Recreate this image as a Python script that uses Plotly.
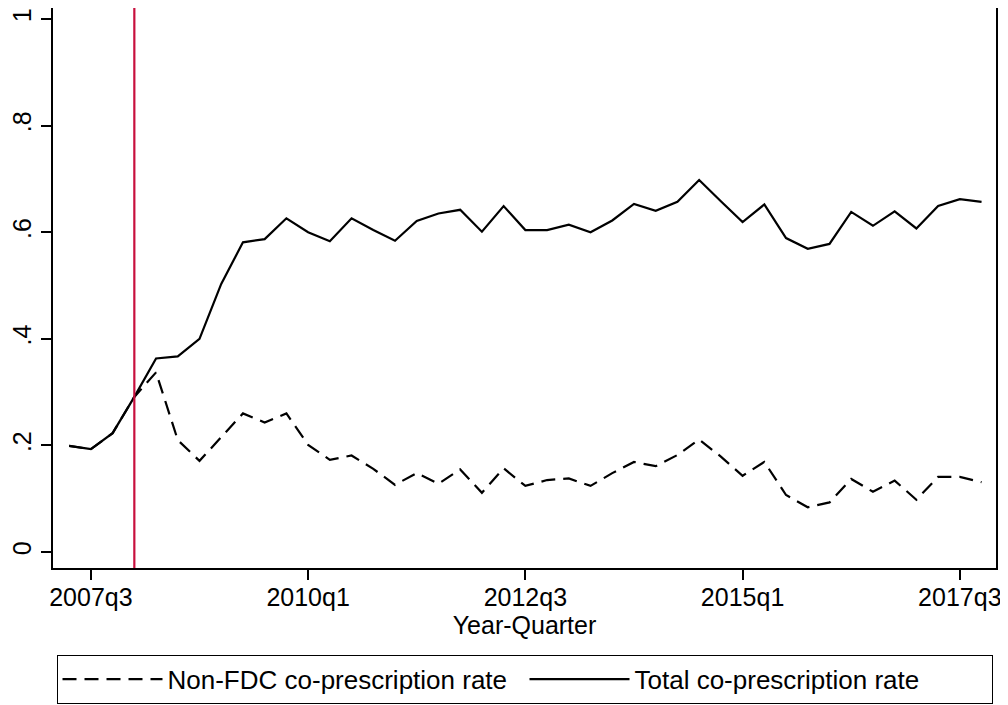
import plotly.graph_objects as go

quarters = ["2007q2", "2007q3", "2007q4", "2008q1", "2008q2", "2008q3", "2008q4",
            "2009q1", "2009q2", "2009q3", "2009q4", "2010q1", "2010q2", "2010q3",
            "2010q4", "2011q1", "2011q2", "2011q3", "2011q4", "2012q1", "2012q2",
            "2012q3", "2012q4", "2013q1", "2013q2", "2013q3", "2013q4", "2014q1",
            "2014q2", "2014q3", "2014q4", "2015q1", "2015q2", "2015q3", "2015q4",
            "2016q1", "2016q2", "2016q3", "2016q4", "2017q1", "2017q2", "2017q3",
            "2017q4"]

total_rate = [0.199, 0.193, 0.223, 0.291, 0.363, 0.367, 0.400, 0.503, 0.581, 0.587,
              0.626, 0.600, 0.583, 0.626, 0.604, 0.584, 0.621, 0.635, 0.642, 0.601,
              0.649, 0.604, 0.604, 0.614, 0.600, 0.622, 0.653, 0.640, 0.657, 0.698,
              0.658, 0.619, 0.652, 0.589, 0.569, 0.578, 0.638, 0.612, 0.639, 0.607,
              0.649, 0.662, 0.657]

nonfdc_rate = [0.199, 0.193, 0.223, 0.291, 0.337, 0.210, 0.171, 0.216, 0.260, 0.243,
               0.260, 0.201, 0.173, 0.181, 0.156, 0.126, 0.148, 0.128, 0.155, 0.111,
               0.157, 0.124, 0.135, 0.138, 0.124, 0.148, 0.169, 0.161, 0.182, 0.211,
               0.179, 0.143, 0.169, 0.107, 0.084, 0.093, 0.137, 0.113, 0.134, 0.098,
               0.141, 0.141, 0.131]

tick_labels = ["2007q3", "2010q1", "2012q3", "2015q1", "2017q3"]
y_ticks = [0, 0.2, 0.4, 0.6, 0.8, 1.0]
y_tick_labels = ["0", ".2", ".4", ".6", ".8", "1"]
event_quarter = "2008q1"

# quarter index relative to 2007q3
base = quarters.index("2007q3")
xs = [i - base for i in range(len(quarters))]
tick_pos = [quarters.index(t) - base for t in tick_labels]
event_x = quarters.index(event_quarter) - base

FONT = "Liberation Sans, Arial, Helvetica, sans-serif"

fig = go.Figure()
fig.add_trace(go.Scatter(
    x=xs, y=nonfdc_rate, mode="lines", name="Non-FDC co-prescription rate",
    line=dict(color="black", width=2.2, dash="14px,8px"),
    text=quarters, hovertemplate="%{text}: %{y:.3f}<extra></extra>"))
fig.add_trace(go.Scatter(
    x=xs, y=total_rate, mode="lines", name="Total co-prescription rate",
    line=dict(color="black", width=2.2),
    text=quarters, hovertemplate="%{text}: %{y:.3f}<extra></extra>"))

fig.add_vline(x=event_x, line=dict(color="#C8103E", width=2.2), layer="above")

# the page adds an 8px body margin, so the figure is 1000x697
fig.update_layout(
    width=1000, height=697,
    margin=dict(l=45, r=12, t=0, b=137, autoexpand=False),
    paper_bgcolor="white", plot_bgcolor="white",
    font=dict(family=FONT, size=25, color="black"),
    showlegend=True,
    legend=dict(
        orientation="h", x=0.5, xanchor="center", y=-0.155, yanchor="top",
        bordercolor="black", borderwidth=1, bgcolor="white",
        font=dict(family=FONT, size=26, color="black"),
        itemwidth=100, entrywidth=352, traceorder="normal"),
    xaxis=dict(
        range=[-1.744, 41.665], tickmode="array", tickvals=tick_pos, ticktext=tick_labels,
        ticks="outside", ticklen=10, tickwidth=1.5, tickcolor="black",
        showgrid=False, zeroline=False, showline=True, linecolor="black",
        linewidth=2, mirror=True, automargin=False, ticklabelstandoff=-4,
        title=dict(text="Year-Quarter", standoff=0, font=dict(size=25)),
        tickfont=dict(size=25)),
    yaxis=dict(
        range=[-0.030, 1.0206], tickmode="array", tickvals=y_ticks, ticktext=y_tick_labels,
        ticks="outside", ticklen=10, tickwidth=1.5, tickcolor="black", tickangle=-90,
        showgrid=False, zeroline=False, showline=True, linecolor="black",
        linewidth=2, mirror=True, automargin=False, tickfont=dict(size=25)),
)

fig.write_html("out.html")
